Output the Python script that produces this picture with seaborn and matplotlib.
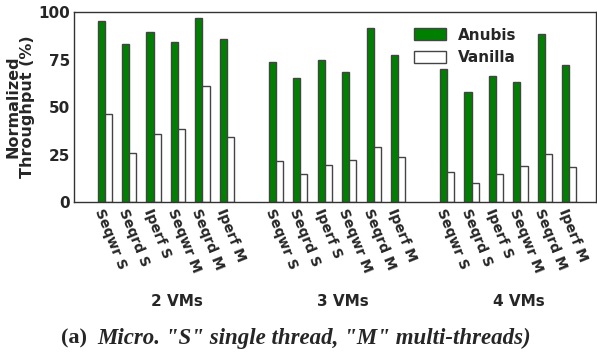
import pandas as pd
import seaborn as sns
import matplotlib.pyplot as plt

# benchmark names, repeated for each VM count
benchmarks = ['Seqwr S', 'Seqrd S', 'Iperf S', 'Seqwr M', 'Seqrd M', 'Iperf M']
groups = ['2 VMs', '3 VMs', '4 VMs']

anubis = [95.3, 83.3, 89.6, 84.0, 97.0, 85.8,
          73.8, 65.1, 74.6, 68.3, 91.4, 77.2,
          70.0, 58.0, 66.2, 63.0, 88.2, 72.0]
vanilla = [46.1, 25.6, 36.1, 38.6, 60.9, 34.4,
           21.9, 14.6, 19.3, 22.3, 28.8, 23.5,
           15.6, 10.2, 14.6, 18.8, 25.1, 18.3]

# slot index per bar pair: 6 benchmarks then one empty slot between groups
slots = [g * (len(benchmarks) + 1) + j for g in range(len(groups)) for j in range(len(benchmarks))]
labels = [b for g in groups for b in benchmarks]

df = pd.DataFrame({
    'slot': slots * 2,
    'system': ['Anubis'] * len(slots) + ['Vanilla'] * len(slots),
    'value': anubis + vanilla,
})

sns.set_style('white')
fig = plt.figure(figsize=(5.97, 3.54), dpi=100)
ax = fig.add_axes([0.124, 0.429, 0.874, 0.537])

sns.barplot(data=df, x='slot', y='value', hue='system', native_scale=True,
            hue_order=['Anubis', 'Vanilla'], palette=['green', 'white'],
            saturation=1, width=0.58, edgecolor='#444444', linewidth=1, ax=ax)

ax.set_xlim(-1.25, 20.08)
ax.set_ylim(0, 100)
ax.set_yticks([0, 25, 50, 75, 100])
ax.set_yticklabels(['0', '25', '50', '75', '100'], fontsize=11, fontweight='bold')

ax.set_xticks(slots)
ax.set_xticklabels(labels, rotation=-68, ha='left', va='top',
                   rotation_mode='anchor', fontsize=10, fontweight='bold')
ax.tick_params(length=0, pad=3)
ax.set_xlabel('')
ax.set_ylabel('Normalized\nThroughput (%)', fontsize=11.5, fontweight='bold',
              labelpad=2, linespacing=0.95)

for s in ax.spines.values():
    s.set_color('#333333')
    s.set_linewidth(1)

leg = ax.legend(loc='upper right', bbox_to_anchor=(0.875, 0.99), frameon=False,
                prop={'weight': 'bold', 'size': 11}, handlelength=2.1,
                handleheight=0.85, labelspacing=0.5)

for x, g in zip([177, 343, 519], groups):
    fig.text(x / 597, 1 - 302 / 354, g, ha='center', va='center',
             fontsize=11, fontweight='bold')

fig.text(61 / 597, 1 - 338 / 354, '(a)', ha='left', va='center',
         fontsize=16, fontweight='bold', family='Liberation Serif')
fig.text(97 / 597, 1 - 338 / 354, 'Micro. "S" single thread, "M" multi-threads)',
         ha='left', va='center', fontsize=16.5, fontweight='bold', style='italic',
         family='Liberation Serif')

fig.savefig('out.png', dpi=100)
